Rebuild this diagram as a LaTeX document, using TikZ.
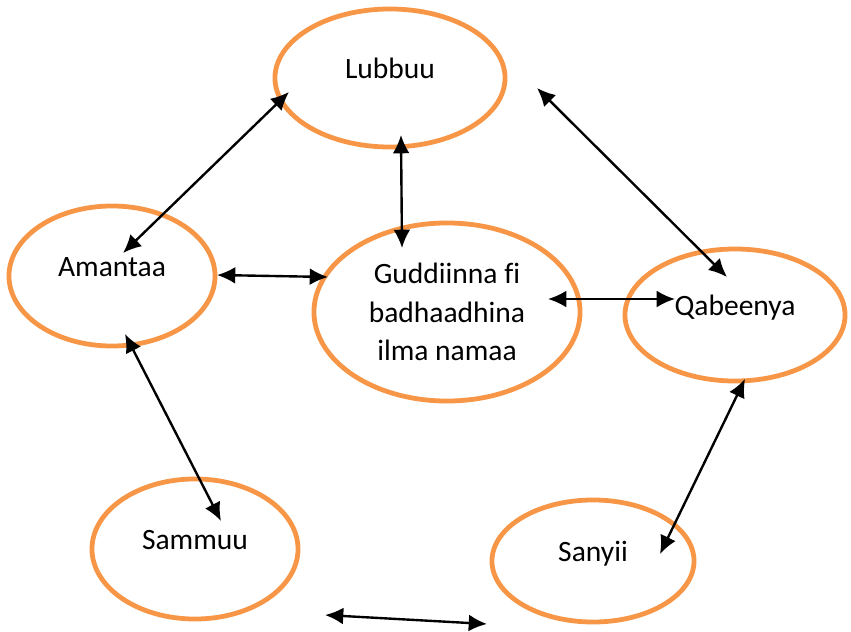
\documentclass[tikz,border=0pt]{standalone}
\usepackage{fontspec}
\setmainfont[Ligatures=NoCommon]{Carlito}
\usetikzlibrary{arrows.meta,shapes.geometric}
\definecolor{accent}{RGB}{247,150,70}

\begin{document}
\begin{tikzpicture}[> = {Latex[length=13pt,width=12pt]}, x=0.025cm, y=-0.025cm]
    \tikzset{
      topic/.style={ellipse, draw=accent, line width=3.4pt, inner sep=0pt,
        font=\fontsize{21}{27.5}\selectfont},
      word/.style={topic, text height=14pt, text depth=14pt},
      link/.style={line width=1.7pt},
    }
    \useasboundingbox (0,0) rectangle (851,632);
    \node [word, minimum width=5.75cm, minimum height=3.45cm] (lub) at (390,78) {Lubbuu};
    \node [word, minimum width=5.15cm, minimum height=3.5cm] (ama) at (112,276) {Amantaa};
    \node [topic, align=center, minimum width=6.65cm, minimum height=4.45cm] (gud) at (447,312)
      {Guddiinna fi\\badhaadhina\\ilma namaa};
    \node [word, minimum width=5.5cm, minimum height=3.3cm] (qab) at (735,315) {Qabeenya};
    \node [word, minimum width=5.15cm, minimum height=3.5cm] (sam) at (195,549) {Sammuu};
    \node [word, minimum width=5.05cm, minimum height=3.05cm] (san) at (593,561) {Sanyii};
    \path[<->, link]
      ([shift={(11,-23)}]ama.center) edge ([shift={(-101,14)}]lub.center)
      ([shift={(11,57)}]lub.center) edge ([shift={(-45,-64)}]gud.center)
      ([shift={(105,-1)}]ama.center) edge ([shift={(-119,-35)}]gud.center)
      ([shift={(147,10)}]lub.center) edge ([shift={(-8,-38)}]qab.center)
      ([shift={(101,-13)}]gud.center) edge ([shift={(-60,-16)}]qab.center)
      ([shift={(13,58)}]ama.center) edge ([shift={(26,-28)}]sam.center)
      ([shift={(130,66)}]sam.center) edge ([shift={(-106,63)}]san.center)
      ([shift={(10,64)}]qab.center) edge ([shift={(67,-7)}]san.center);

  \end{tikzpicture}
\end{document}
